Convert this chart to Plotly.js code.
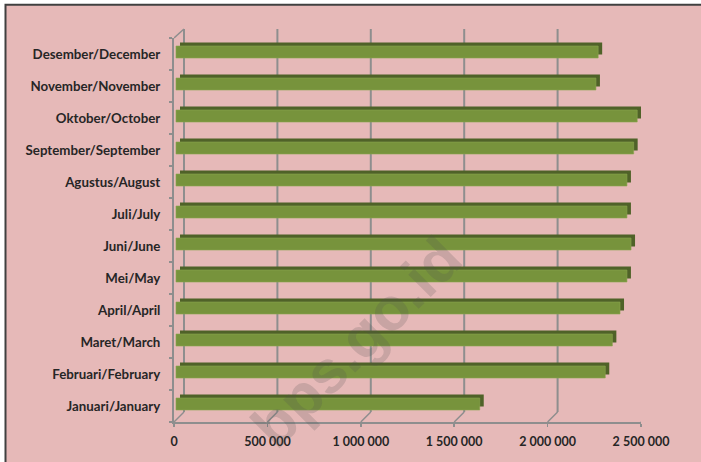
<!DOCTYPE html>
<html>
<head>
<meta charset="utf-8">
<script src="https://cdn.plot.ly/plotly-3.0.1.min.js"></script>
<style>html,body{margin:0;padding:0;background:#fff;}#chart{width:701px;height:462px;}</style>
</head>
<body>
<div id="chart"></div>
<script>
// ---- data ----
const months = ['Januari/January','Februari/February','Maret/March','April/April','Mei/May','Juni/June','Juli/July','Agustus/August','September/September','Oktober/October','November/November','Desember/December'];
const values = [1626000, 2298000, 2336000, 2377000, 2414000, 2436000, 2414000, 2414000, 2450000, 2469000, 2248000, 2260000];
const tickValues = [0, 500000, 1000000, 1500000, 2000000, 2500000];

// ---- layout geometry (pixels) ----
const W = 701, H = 462;
const L = 174, R = 641, T = 38, B = 422;
const plotW = R - L, plotH = B - T;
const XMAX = 2500000;
const PX = XMAX / plotW;      // data units per pixel
const PY = 1 / plotH;         // paper units per pixel
const px2paperX = X => (X - L) / plotW;
const px2paperY = Y => (B - Y) / plotH;

const DEPTH_X = 10, DEPTH_Y = 10;       // back wall offset
const GRAY = '#8e8e8e';
const PINK = '#e6b9b8';
const FACE = '#77933c', DARK = '#4f6228';

const barW = 0.375;
const faceOff = -barW / 2 + 2 / 32;
const darkOff = faceOff + 3.5 / 32;

const traces = [
  { type: 'bar', orientation: 'h', y: months, x: values, base: 6 * PX,
    width: barW, offset: darkOff, marker: { color: DARK, line: { width: 0 } },
    hoverinfo: 'skip', showlegend: false },
  { type: 'bar', orientation: 'h', y: months, x: values, base: 2 * PX,
    width: barW, offset: faceOff, marker: { color: FACE, line: { color: '#8ba54f', width: 0.6 } },
    hoverinfo: 'skip', showlegend: false }
];

const shapes = [];
// chart area background with border
shapes.push({ type: 'rect', xref: 'paper', yref: 'paper', layer: 'below',
  x0: px2paperX(5.5), x1: px2paperX(720), y0: px2paperY(480), y1: px2paperY(4.8),
  fillcolor: PINK, line: { color: '#404040', width: 2 } });
// back wall gridlines and floor connectors
tickValues.forEach(t => {
  shapes.push({ type: 'line', xref: 'x', yref: 'paper', layer: 'below',
    x0: t + DEPTH_X * PX, x1: t + DEPTH_X * PX, y0: DEPTH_Y * PY, y1: px2paperY(29),
    line: { color: GRAY, width: 2 } });
  shapes.push({ type: 'line', xref: 'x', yref: 'paper', layer: 'below',
    x0: t, x1: t + DEPTH_X * PX, y0: 0, y1: DEPTH_Y * PY,
    line: { color: GRAY, width: 1.5 } });
});
// left wall top connector
shapes.push({ type: 'line', xref: 'x', yref: 'paper', layer: 'below',
  x0: 0, x1: DEPTH_X * PX, y0: 1, y1: px2paperY(29),
  line: { color: GRAY, width: 1.5 } });

const tickFont = { family: 'Lato', size: 13.3, color: '#262626', weight: 'bold' };

const layout = {
  width: W, height: H,
  margin: { l: L, r: W - R, t: T, b: H - B, pad: 0 },
  paper_bgcolor: '#ffffff',
  plot_bgcolor: 'rgba(0,0,0,0)',
  separators: ', ',
  barmode: 'overlay',
  showlegend: false,
  xaxis: {
    range: [0, XMAX], tickvals: tickValues, tickformat: ',d',
    showgrid: false, zeroline: false,
    showline: true, linecolor: GRAY, linewidth: 2,
    ticks: 'outside', ticklen: 3, tickcolor: GRAY, tickwidth: 1.5,
    tickfont: { family: 'Lato', size: 12.5, color: '#262626', weight: 'bold' },
    ticklabelstandoff: 4, fixedrange: true
  },
  yaxis: {
    type: 'category', categoryorder: 'array', categoryarray: months,
    range: [-0.5, months.length - 0.5],
    showgrid: false, zeroline: false,
    showline: true, linecolor: GRAY, linewidth: 2,
    ticks: 'outside', tickson: 'boundaries', ticklen: 3, tickcolor: GRAY, tickwidth: 1.5,
    tickfont: tickFont, ticklabelstandoff: 9, fixedrange: true
  },
  shapes: shapes,
  annotations: [{
    xref: 'paper', yref: 'paper', x: px2paperX(356), y: px2paperY(342),
    xanchor: 'center', yanchor: 'middle', showarrow: false,
    text: 'bps.go.id', textangle: -45,
    font: { family: 'Liberation Sans', size: 60, color: 'rgba(80,80,80,0.2)', weight: 'bold' }
  }]
};

Plotly.newPlot('chart', traces, layout, { displayModeBar: false, staticPlot: true });
</script>
</body>
</html>
